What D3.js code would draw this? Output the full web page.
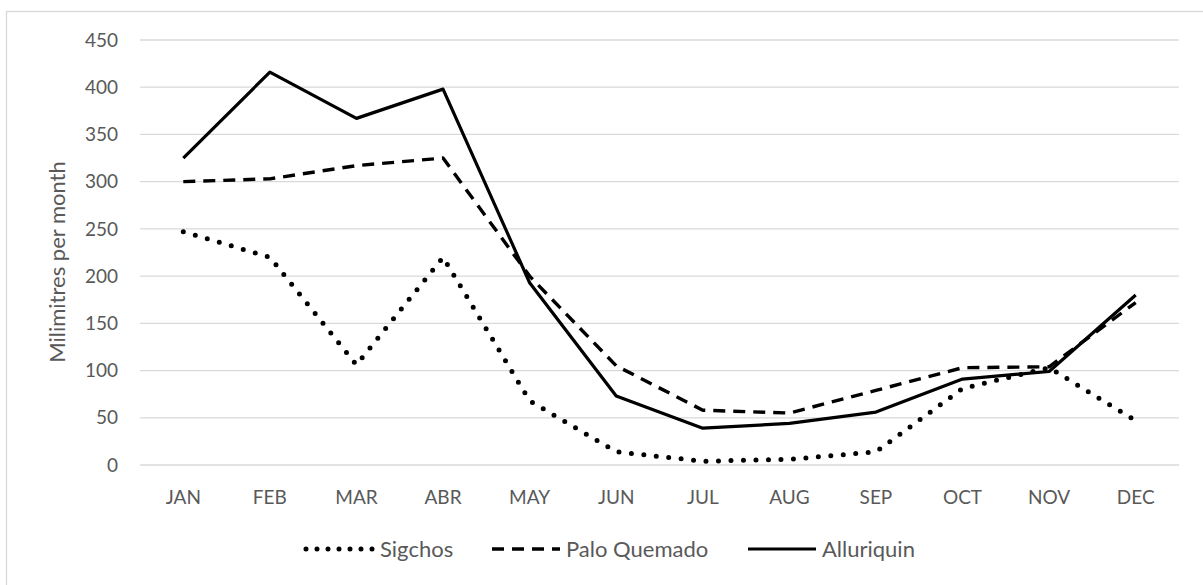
<!DOCTYPE html>
<meta charset="utf-8">
<style>
body { margin: 0; background: #fff; }
svg text { font-family: Lato, "Open Sans", sans-serif; fill: #595959; }
.grid line { stroke: #d9d9d9; stroke-width: 1.3px; }
.series { fill: none; stroke: #000; }
</style>
<body>
<div id="main"></div>
<script src="https://d3js.org/d3.v7.min.js"></script>
<script>
// monthly values (mm)
var months = ["JAN", "FEB", "MAR", "ABR", "MAY", "JUN", "JUL", "AUG", "SEP", "OCT", "NOV", "DEC"];
var sigchos = [247, 220, 106, 220, 68, 14, 4, 6, 14, 81, 103, 47];
var paloQuemado = [300, 303, 317, 325, 200, 105, 58, 55, 79, 103, 104, 172];
var alluriquin = [325, 416, 367, 398, 193, 73, 39, 44, 56, 91, 99, 180];
var yTicks = [0, 50, 100, 150, 200, 250, 300, 350, 400, 450];

var series = [
	{name: "Sigchos", values: sigchos, dash: "0 12.5", legendDash: "0 11", cap: "round", width: 5},
	{name: "Palo Quemado", values: paloQuemado, dash: "12 8", legendDash: "12 8", cap: "butt", width: 3.4},
	{name: "Alluriquin", values: alluriquin, dash: null, legendDash: null, cap: "butt", width: 3.2}
];

var svg = d3.select("#main").append("svg")
	.attr("width", 1203)
	.attr("height", 585);

// chart border
svg.append("rect")
	.attr("x", 6.5).attr("y", 11.5)
	.attr("width", 1210).attr("height", 600)
	.attr("fill", "none")
	.attr("stroke", "#d9d9d9")
	.attr("stroke-width", 1.3);

var mLeft = 140, mRight = 1179, mTop = 40, mBottom = 465;

var x = d3.scalePoint().domain(months).range([mLeft, mRight]).padding(0.5);
var y = d3.scaleLinear().domain([0, 450]).range([mBottom, mTop]);

// horizontal gridlines
svg.append("g").attr("class", "grid")
	.selectAll("line")
	.data(yTicks)
	.enter().append("line")
	.attr("x1", mLeft).attr("x2", mRight)
	.attr("y1", function(d) { return y(d); })
	.attr("y2", function(d) { return y(d); });

// y tick labels
svg.append("g")
	.selectAll("text")
	.data(yTicks)
	.enter().append("text")
	.attr("x", 118)
	.attr("y", function(d) { return y(d); })
	.attr("dy", "0.35em")
	.style("text-anchor", "end")
	.style("font-size", "19px")
	.text(function(d) { return d; });

// x labels
svg.append("g")
	.selectAll("text")
	.data(months)
	.enter().append("text")
	.attr("x", function(d) { return x(d); })
	.attr("y", 497)
	.attr("dy", "0.35em")
	.style("text-anchor", "middle")
	.style("font-size", "19px")
	.text(function(d) { return d; });

// y axis title
svg.append("text")
	.attr("transform", "translate(57,262) rotate(-90)")
	.attr("dy", "0.35em")
	.style("text-anchor", "middle")
	.style("font-size", "22px")
	.text("Milimitres per month");

var line = d3.line()
	.x(function(d, i) { return x(months[i]); })
	.y(function(d) { return y(d); });

svg.selectAll(".series")
	.data(series)
	.enter().append("path")
	.attr("class", "series")
	.attr("d", function(d) { return line(d.values); })
	.attr("stroke-dasharray", function(d) { return d.dash; })
	.attr("stroke-linecap", function(d) { return d.cap; })
	.attr("stroke-width", function(d) { return d.width; })
	.attr("stroke-linejoin", "round");

// legend
var legendX = [304, 490, 746];
var legend = svg.selectAll(".legend")
	.data(series)
	.enter().append("g")
	.attr("class", "legend")
	.attr("transform", function(d, i) { return "translate(" + legendX[i] + ",549)"; });

legend.append("line")
	.attr("x1", 2).attr("x2", 70)
	.attr("stroke", "#000")
	.attr("stroke-width", function(d) { return d.width; })
	.attr("stroke-dasharray", function(d) { return d.legendDash; })
	.attr("stroke-linecap", function(d) { return d.cap; });

legend.append("text")
	.attr("x", 76)
	.attr("dy", "0.35em")
	.style("font-size", "22px")
	.text(function(d) { return d.name; });
</script>
</body>
